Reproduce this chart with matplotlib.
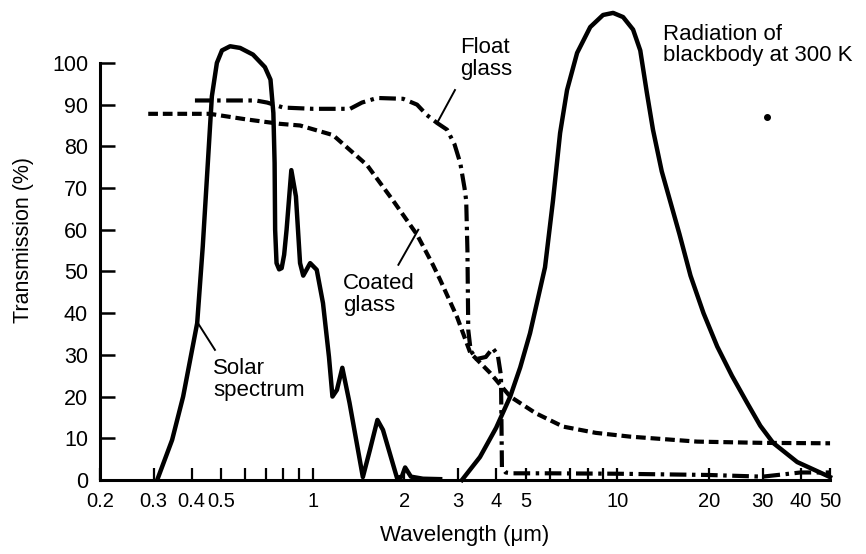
import matplotlib
matplotlib.use("Agg")
import matplotlib.pyplot as plt
from matplotlib.ticker import FixedLocator, NullFormatter

plt.rcParams['font.family'] = ['Liberation Sans', 'DejaVu Sans']
plt.rcParams['lines.scale_dashes'] = False

# Solar spectrum (relative intensity)
solar_wl = [0.31, 0.345, 0.375, 0.417, 0.435, 0.452, 0.466, 0.484, 0.503, 0.535,
            0.577, 0.636, 0.696, 0.726, 0.742, 0.749, 0.752, 0.76, 0.775, 0.79,
            0.805, 0.82, 0.85, 0.88, 0.908, 0.93, 0.955, 0.98, 1.03, 1.08,
            1.13, 1.16, 1.2, 1.25, 1.32, 1.46, 1.54, 1.63, 1.70, 1.89,
            1.96, 2.01, 2.1, 2.3, 2.62]
solar_tr = [0.5, 9.6, 20, 37.6, 56, 76, 92, 100, 103, 104,
            103.6, 102, 99, 96, 88, 76, 60, 52, 50.5, 50.8,
            54, 60, 74.3, 68, 52, 49, 50.5, 52, 50.4, 42.4,
            29.5, 20, 21.6, 26.9, 18.5, 0.7, 7.2, 14.4, 12, 0.5,
            0.8, 3, 0.8, 0.3, 0.2]

# Float glass transmission
float_wl = [0.41, 0.65, 0.708, 0.8, 1.0, 1.325, 1.45, 1.626, 1.98, 2.2,
            2.37, 2.56, 2.76, 2.92, 3.05, 3.15, 3.19, 3.22, 3.24, 3.3,
            3.45, 3.7, 3.9, 4.05, 4.15, 4.18, 4.3, 4.5, 6, 10,
            20, 30, 40, 50]
float_tr = [91, 91, 90.5, 89.3, 89, 89, 90.5, 91.6, 91.4, 90,
            87.5, 85.6, 84, 80.5, 76, 70, 67, 55, 36, 31,
            29, 29.5, 31.6, 30, 25, 3, 1.8, 1.6, 1.6, 1.5,
            1.2, 0.8, 1.8, 1.8]

# Coated glass transmission
coated_wl = [0.288, 0.459, 0.6, 0.78, 0.908, 1.165, 1.507, 1.835, 2.2, 2.48,
             2.62, 2.98, 3.29, 3.82, 4.45, 5.4, 6.64, 8.5, 11.0, 18.3,
             30, 50]
coated_tr = [87.8, 87.8, 86.5, 85.4, 85, 82.7, 75.5, 67, 58.8, 51.6,
             48, 39, 30.5, 25.7, 20, 16, 12.8, 11.3, 10.4, 9.2,
             8.9, 8.8]

# Blackbody radiation at 300 K (relative)
bb_wl = [3.09, 3.54, 4.0, 4.45, 4.8, 5.17, 5.79, 6.15, 6.49, 6.84,
         7.38, 8.15, 8.98, 9.69, 10.45, 11.27, 11.9, 12.5, 13.1, 14.0,
         14.9, 16.0, 17.4, 19.2, 21.3, 23.8, 26.7, 29.5, 32.5, 39, 50]
bb_tr = [0, 5.5, 12.5, 20, 27, 35.2, 51, 67, 83.2, 93.5,
         102.4, 108.6, 111.5, 112, 111, 108, 103, 93, 84, 74,
         67, 59, 49, 40, 32, 25, 18.5, 13, 8.9, 4.3, 0.7]

x_ticks = [0.2, 0.3, 0.4, 0.5, 1, 2, 3, 4, 5, 10, 20, 30, 40, 50]
x_ticklabels = ['0.2', '0.3', '0.4', '0.5', '1', '2', '3', '4', '5', '10', '20', '30', '40', '50']
x_minor = [0.6, 0.7, 0.8, 0.9, 6, 7, 8, 9]
y_ticks = [0, 10, 20, 30, 40, 50, 60, 70, 80, 90, 100]

fig = plt.figure(figsize=(8.66, 5.54), dpi=100)
ax = fig.add_axes([0.1155, 0.1336, 0.843, 0.8657])

ax.plot(solar_wl, solar_tr, color='black', lw=3.2, solid_joinstyle='round', clip_on=False)
ax.plot(bb_wl, bb_tr, color='black', lw=3.2, solid_joinstyle='round', clip_on=False)
ax.plot(coated_wl, coated_tr, color='black', lw=3.0, linestyle=(0, (7, 3.5)), clip_on=False)
ax.plot(float_wl, float_tr, color='black', lw=3.0, linestyle=(0, (12, 4, 2.5, 4)), clip_on=False)

ax.set_xscale('log')
ax.set_xlim(0.2, 50)
ax.set_ylim(0, 115)

ax.xaxis.set_major_locator(FixedLocator(x_ticks))
ax.set_xticklabels(x_ticklabels)
ax.xaxis.set_minor_locator(FixedLocator(x_minor))
ax.xaxis.set_minor_formatter(NullFormatter())
ax.set_yticks(y_ticks)

ax.tick_params(axis='x', which='both', direction='in', length=9, width=1.6, pad=9, labelsize=14.5)
ax.tick_params(axis='y', direction='in', length=11, width=1.8, pad=8.6, labelsize=15.5)

for side in ['top', 'right']:
    ax.spines[side].set_visible(False)
ax.spines['left'].set_bounds(0, 100)
ax.spines['left'].set_linewidth(2.2)
ax.spines['bottom'].set_linewidth(2.2)

ax.set_xlabel('Wavelength (\u03bcm)', fontsize=16, labelpad=10)
ax.set_ylabel('Transmission (%)', fontsize=15.5, labelpad=13)

# Curve labels with leader lines
txt = dict(fontsize=16, ha='left', va='center', linespacing=1.05)
ax.text(3.05, 101.1, 'Float\nglass', **txt)
ax.plot([2.93, 2.56], [93.5, 85.6], color='black', lw=1.4)
ax.text(14.14, 104.3, 'Radiation of\nblackbody at 300 K', **txt)
ax.text(1.257, 44.4, 'Coated\nglass', **txt)
ax.plot([1.91, 2.22], [51.6, 60], color='black', lw=1.4)
ax.text(0.470, 24.0, 'Solar\nspectrum', **txt)
ax.plot([0.417, 0.477], [37.9, 31.2], color='black', lw=1.4)

ax.plot([31.0], [87.0], marker='o', markersize=4, color='black')

fig.savefig('out.png', dpi=100)
